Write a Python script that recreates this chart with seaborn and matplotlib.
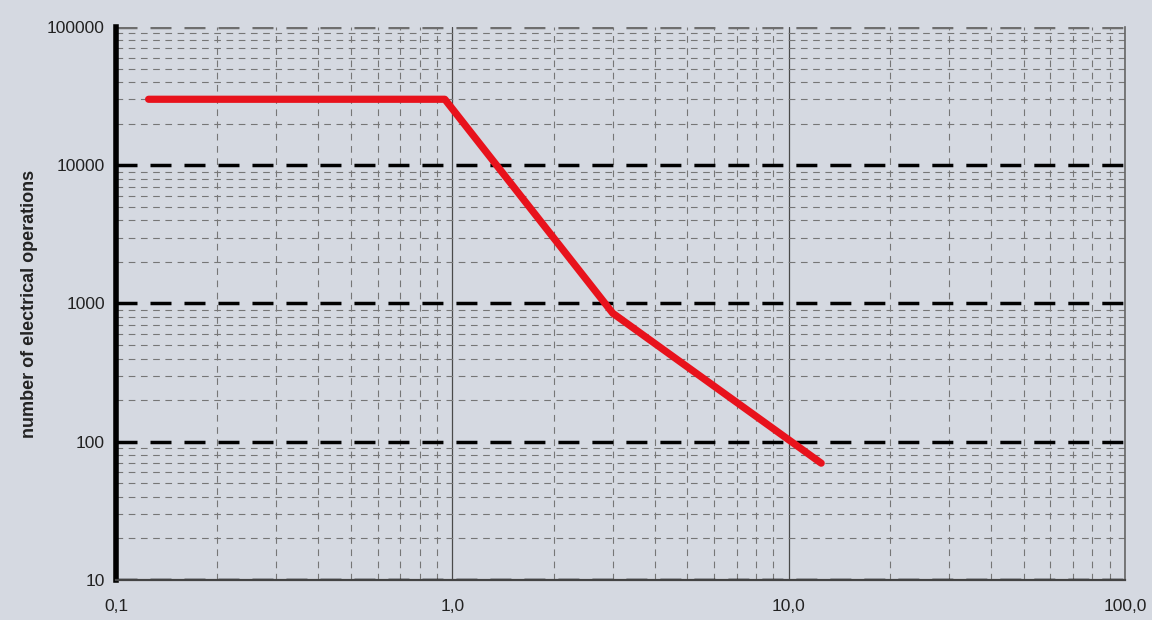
import numpy as np
import pandas as pd
import seaborn as sns
import matplotlib.pyplot as plt
from matplotlib.ticker import LogLocator, FixedLocator, NullFormatter

# curve (current in A vs electrical operations)
current = [0.125, 0.95, 3.0, 12.5]
operations = [30000, 30000, 850, 70]

x_ticks = [0.1, 1, 10, 100]
x_labels = ["0,1", "1,0", "10,0", "100,0"]
y_ticks = [10, 100, 1000, 10000, 100000]
y_labels = ["10", "100", "1000", "10000", "100000"]

bg = "#d5d9e1"

sns.set_theme(style="white")
plt.rcParams['font.family'] = ['Liberation Sans', 'DejaVu Sans']

df = pd.DataFrame({"current": current, "operations": operations})

fig = plt.figure(figsize=(11.52, 6.2), dpi=100, facecolor=bg)
ax = fig.add_axes([0.1007, 0.0645, 0.8758, 0.892])
ax.set_facecolor(bg)

ax.set_xscale("log")
ax.set_yscale("log")
ax.set_xlim(0.1, 100)
ax.set_ylim(10, 100000)

# minor grid: thin grey dashes both ways
ax.xaxis.set_minor_locator(LogLocator(base=10, subs=np.arange(2, 10)))
ax.yaxis.set_minor_locator(LogLocator(base=10, subs=np.arange(2, 10)))
ax.xaxis.set_minor_formatter(NullFormatter())
ax.yaxis.set_minor_formatter(NullFormatter())
ax.grid(which="minor", axis="both", color="#767676", lw=0.8,
        linestyle=(0, (6, 5)), zorder=1)

# major grid: thin solid verticals, heavy black dashed horizontals
ax.xaxis.set_major_locator(FixedLocator(x_ticks))
ax.yaxis.set_major_locator(FixedLocator(y_ticks))
ax.set_xticklabels(x_labels)
ax.set_yticklabels(y_labels)
ax.grid(which="major", axis="x", color="#4a4a4a", lw=0.9, linestyle="-")
ax.grid(which="major", axis="y", color="black", lw=2.5,
        linestyle=(0, (6.05, 3.74)))
ax.get_ygridlines()[-1].set_color("#6e6e6e")
ax.set_axisbelow(True)

sns.lineplot(data=df, x="current", y="operations", ax=ax, color="#e8121c",
             lw=5.2, solid_capstyle="round", solid_joinstyle="round", zorder=5)

ax.set_xlabel("")
ax.set_ylabel("number of electrical operations", fontsize=13,
              fontweight="bold", color="#222222")

ax.tick_params(axis="y", which="major", length=4, width=2.5, color="black",
               labelsize=12.5, pad=4, labelcolor="#222222")
ax.tick_params(axis="x", which="major", length=5, width=1, color="#555555",
               labelsize=12.5, pad=9, labelcolor="#222222")
ax.tick_params(which="minor", length=0)

for s in ["left", "bottom", "right", "top"]:
    ax.spines[s].set_visible(True)
ax.spines["left"].set_linewidth(4)
ax.spines["left"].set_color("black")
ax.spines["bottom"].set_linewidth(1.6)
ax.spines["bottom"].set_color("#444444")
ax.spines["right"].set_linewidth(1.2)
ax.spines["right"].set_color("#666666")
ax.spines["top"].set_visible(False)

ax.yaxis.set_label_coords(-0.077, 0.5)

fig.savefig("out.png", dpi=100, facecolor=bg)
